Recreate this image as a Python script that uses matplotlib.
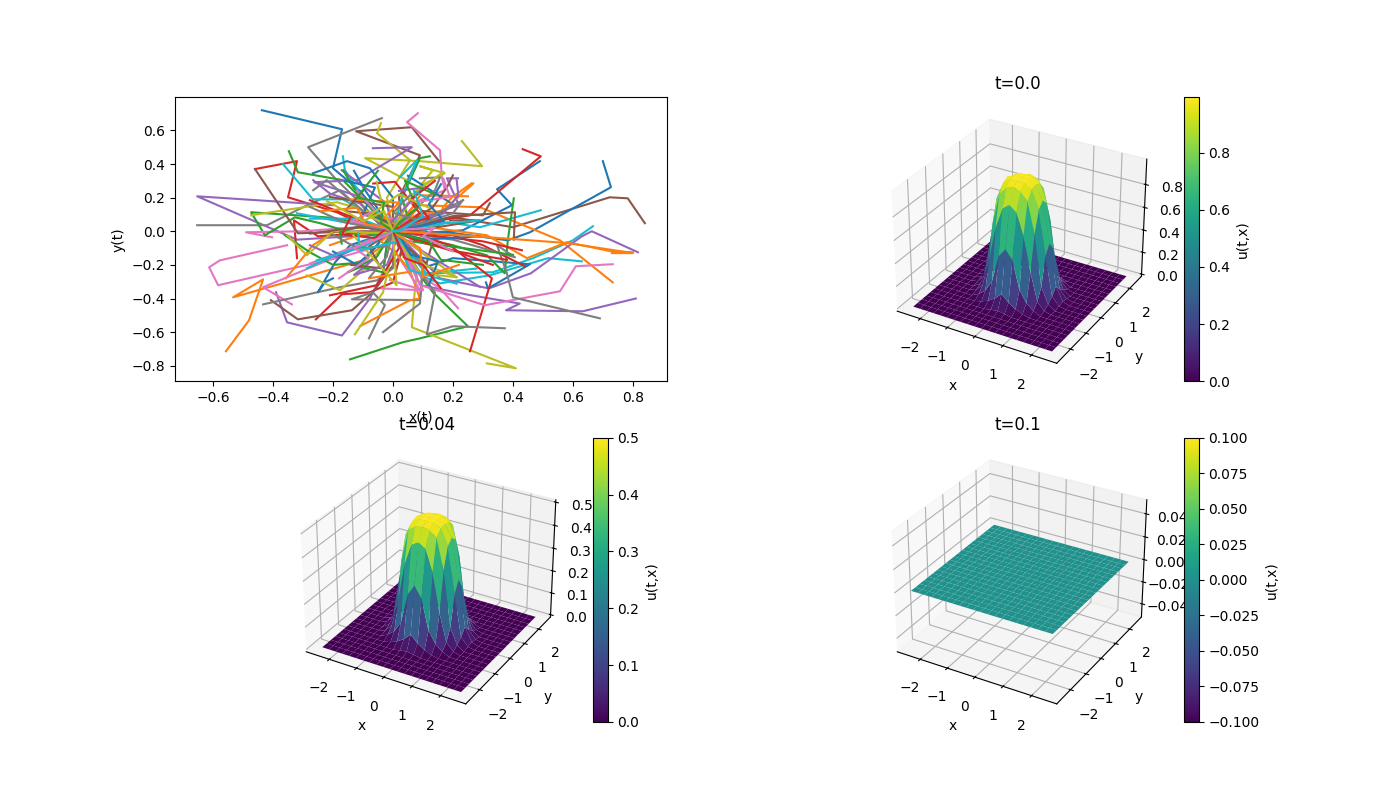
import numpy as np
import matplotlib
matplotlib.use('Agg')
import matplotlib.pyplot as plt

# sample paths, grouped by colour of the default cycle
blue = [
    [(-.437, .72), (-.17, .607), (-.2, .375), (-.11, .24), (0, 0)],
    [(.70, .417), (.727, .262), (.667, .202), (.457, -.006), (.383, -.054), (.2, -.01), (0, 0)],
    [(.49, .417), (.347, .25), (.397, .155), (.233, .006), (.09, -.012), (0, 0)],
    [(-.2, -.28), (-.227, -.304), (-.25, -.363), (-.193, -.185), (-.143, -.083), (0, 0)],
    [(.31, -.304), (.317, -.34), (.457, -.196), (.2, -.16), (.097, -.22), (0, 0)],
    [(-.267, .345), (-.153, .417), (-.077, .375), (0, .2), (0, 0)],
    [(-.13, .36), (-.093, .244), (-.03, .08), (0, 0)],
    [(.05, .33), (.2, .16), (.1, .05), (0, 0)],
    [(.29, -.03), (.1, -.05), (0, 0)],
    [(-.16, .3), (-.06, .26), (-.1, .1), (-.02, .06), (0, 0)],
    [(.16, .28), (.12, .16), (.17, .06), (.06, .02), (0, 0)],
    [(-.2, -.12), (-.12, -.2), (-.06, -.1), (-.03, -.03), (0, 0)],
    [(.12, -.32), (.15, -.18), (.06, -.14), (.03, -.05), (0, 0)],
]
orange = [
    [(-.557, -.714), (-.48, -.53), (-.433, -.286), (-.533, -.393), (-.1, -.173), (-.033, -.083), (0, 0)],
    [(-.357, -.28), (-.267, -.083), (-.177, .018), (-.06, .02), (0, 0)],
    [(.733, -.304), (.557, -.054), (.29, .143), (.09, .155), (.04, .05), (0, 0)],
    [(.8, -.125), (.73, -.12), (.58, -.065), (.447, -.16), (.313, -.024), (.1, .03), (0, 0)],
    [(-.11, -.565), (.057, -.41), (.09, -.4), (.04, -.15), (0, 0)],
    [(.263, .286), (.197, .202), (.167, .143), (.157, .083), (.05, .03), (0, 0)],
    [(.25, .208), (.09, .214), (.05, .1), (0, 0)],
    [(.268, .284), (.168, .125), (.07, .09), (0, 0)],
    [(-.21, -.083), (-.1, -.014), (0, 0)],
    [(.73, -.13), (.8, -.13), (.58, -.07), (.2, -.02), (0, 0)],
    [(-.14, .19), (.02, .17), (-.03, .08), (.03, .02), (0, 0)],
    [(-.08, -.28), (.06, -.24), (.01, -.13), (-.04, -.06), (0, 0)],
    [(.22, -.2), (.1, -.27), (.09, -.1), (.02, -.03), (0, 0)],
    [(-.24, .12), (-.12, .14), (-.09, .04), (-.03, .03), (0, 0)],
]
green = [
    [(-.143, -.762), (.033, -.66), (.09, -.637), (.25, -.565), (.133, -.363), (.09, -.262), (.03, -.08), (0, 0)],
    [(-.347, .476), (-.317, .351), (-.167, .304), (-.077, .143), (-.03, .04), (0, 0)],
    [(-.427, -.024), (-.473, .113), (-.2, .08), (-.05, .03), (0, 0)],
    [(-.427, -.024), (-.327, .083), (-.243, .048), (-.1, -.03), (0, 0)],
    [(.403, .196), (.383, -.054), (.373, -.25), (.313, -.143), (.2, -.083), (.06, -.03), (0, 0)],
    [(.123, .446), (.09, .435), (.03, .2), (.05, .08), (0, 0)],
    [(-.36, -.024), (-.277, -.125), (-.2, -.2), (-.1, -.185), (-.04, -.05), (0, 0)],
    [(-.15, -.244), (-.11, -.214), (-.033, -.244), (-.02, -.08), (0, 0)],
    [(-.166, .363), (-.133, .264), (-.088, .165), (0, 0)],
    [(-.171, -.073), (-.177, -.004), (-.11, .026), (0, 0)],
    [(.4, -.14), (.29, -.113), (.034, -.054), (0, 0)],
    [(-.149, -.242), (-.054, -.153), (0, 0)],
    [(.14, .22), (.04, .3), (.08, .14), (.02, .05), (0, 0)],
    [(.3, -.2), (.16, -.17), (.12, -.06), (.03, -.02), (0, 0)],
    [(-.05, .36), (-.12, .2), (-.03, .17), (-.04, .05), (0, 0)],
]
red = [
    [(-.46, .37), (-.32, .417), (-.35, .202), (-.187, .113), (-.077, .018), (0, 0)],
    [(-.32, -.16), (-.33, .065), (-.25, -.03), (-.1, -.01), (0, 0)],
    [(-.257, -.524), (-.17, -.375), (-.077, -.363), (0, -.304), (.03, -.1), (0, 0)],
    [(.433, .488), (.493, .446), (.257, .095), (.157, .065), (.05, .0), (0, 0)],
    [(.257, -.714), (.33, -.28), (.19, -.083), (.09, -.024), (0, 0)],
    [(.44, -.208), (.3, -.083), (.2, -.024), (0, 0)],
    [(.333, -.2), (.2, -.113), (.09, -.065), (0, 0)],
    [(.43, -.113), (.3, -.06), (0, 0)],
    [(-.277, .185), (-.11, .065), (0, 0)],
    [(-.066, .284), (.007, .294), (.09, .105), (.02, .02), (0, 0)],
    [(-.21, -.381), (-.054, -.321), (.02, -.1), (0, 0)],
    [(.38, -.17), (.19, -.113), (0, 0)],
    [(-.14, .09), (-.17, -.02), (-.06, -.04), (-.02, .02), (0, 0)],
    [(.14, .3), (.06, .19), (.12, .08), (.03, .03), (0, 0)],
    [(.16, -.34), (.1, -.2), (.04, -.16), (.01, -.04), (0, 0)],
]
purple = [
    [(-.2, .155), (-.653, .208), (-.32, -.05), (-.05, -.02), (0, 0)],
    [(-.39, -.363), (-.353, -.542), (-.17, -.62), (-.077, -.4), (-.033, -.244), (-.02, -.07), (0, 0)],
    [(.81, -.4), (.633, -.476), (.377, -.47), (.423, -.43), (.257, -.38), (.09, -.32), (.04, -.1), (0, 0)],
    [(.817, -.125), (.663, .0), (.63, -.03), (.46, -.25), (.32, -.34), (.157, -.28), (.05, -.08), (0, 0)],
    [(-.067, .494), (.063, .5), (-.12, .304), (-.263, .292), (-.1, .2), (-.03, .06), (0, 0)],
    [(.217, .315), (.18, .315), (.22, .155), (.06, .06), (0, 0)],
    [(-.266, .304), (-.21, .224), (-.11, .165), (-.04, .03), (0, 0)],
    [(-.171, .363), (-.021, .165), (0, 0)],
    [(.212, .313), (.218, .214), (.168, .105), (.04, .04), (0, 0)],
    [(-.277, -.083), (-.188, -.153), (-.07, -.06), (0, 0)],
    [(.29, -.331), (.1, -.12), (0, 0)],
    [(.02, .24), (.1, .26), (.03, .12), (-.02, .03), (0, 0)],
    [(-.06, -.16), (-.13, -.26), (-.02, -.2), (.01, -.06), (0, 0)],
]
brown = [
    [(.84, .048), (.783, .196), (.723, .202), (.4, .024), (.2, .083), (.06, .02), (0, 0)],
    [(.157, .41), (.063, .619), (-.123, .595), (.09, .452), (.02, .2), (.03, .06), (0, 0)],
    [(-.407, -.41), (-.317, -.524), (-.137, -.47), (-.067, -.363), (.033, -.125), (0, 0)],
    [(-.46, .37), (-.35, .077), (-.317, -.012), (-.1, .0), (0, 0)],
    [(.403, -.05), (.407, .113), (.2, .09), (.07, .03), (0, 0)],
    [(.323, .167), (.3, .095), (.1, .12), (.03, .04), (0, 0)],
    [(.2, .333), (.18, .262), (.134, .145), (.03, .02), (0, 0)],
    [(-.21, .204), (0, .145), (0, 0)],
    [(.19, .065), (.29, .065), (.03, -.01), (0, 0)],
    [(.134, -.054), (.112, -.192), (.02, -.05), (0, 0)],
    [(-.277, -.014), (-.11, .026), (0, 0)],
    [(-.1, .24), (-.16, .12), (-.05, .1), (-.01, .02), (0, 0)],
    [(-.14, -.2), (-.04, -.22), (-.08, -.09), (-.02, -.02), (0, 0)],
]
pink = [
    [(-.353, -.083), (-.577, -.173), (-.613, -.214), (-.583, -.321), (-.187, -.16), (-.033, -.083), (0, 0)],
    [(-.337, -.435), (-.433, -.333), (-.2, -.16), (-.05, -.04), (0, 0)],
    [(-.403, -.036), (-.49, -.006), (-.3, .0), (-.08, .03), (0, 0)],
    [(.083, .702), (.047, .649), (.09, .583), (.157, .482), (.163, .321), (.173, .244), (.09, .185), (.02, .06), (0, 0)],
    [(.733, -.196), (.61, -.208), (.557, -.357), (.307, -.44), (.09, -.32), (.03, -.1), (0, 0)],
    [(.217, -.458), (.157, -.34), (.09, -.262), (.02, -.08), (0, 0)],
    [(-.037, -.34), (.09, -.35), (0, -.1), (0, 0)],
    [(-.277, -.192), (-.132, -.093), (0, 0)],
    [(-.043, .085), (.046, .065), (0, 0)],
    [(.168, .313), (.19, .204), (.046, .165), (0, 0)],
    [(-.01, -.29), (.101, -.351), (0, 0)],
    [(.057, -.054), (.123, -.163), (0, 0)],
    [(-.12, .24), (-.06, .12), (-.14, .06), (-.03, .02), (0, 0)],
    [(.2, -.12), (.1, -.03), (.14, .02), (.03, .01), (0, 0)],
    [(-.18, -.28), (-.08, -.16), (-.13, -.1), (-.03, -.03), (0, 0)],
]
grey = [
    [(-.037, .673), (-.283, .5), (-.193, .315), (-.07, .1), (0, 0)],
    [(-.653, .036), (-.42, .036), (-.3, .143), (-.177, .244), (-.1, .12), (-.03, .03), (0, 0)],
    [(-.433, -.435), (-.177, -.333), (-.053, -.292), (0, -.22), (0, 0)],
    [(-.08, -.637), (-.027, -.44), (-.067, -.363), (-.137, -.405), (.09, -.41), (.1, -.2), (.02, -.05), (0, 0)],
    [(-.033, -.6), (.09, -.43), (.1, -.2), (0, 0)],
    [(.373, -.577), (.2, -.565), (.113, -.613), (.14, -.363), (.09, -.244), (.02, -.06), (0, 0)],
    [(.69, -.518), (.4, -.393), (.38, -.25), (.347, -.083), (.407, -.155), (.2, -.05), (0, 0)],
    [(.233, .185), (.2, .107), (.05, .02), (0, 0)],
    [(.09, .315), (.157, .321), (.14, .244), (.04, .07), (0, 0)],
    [(-.266, .244), (-.221, .304), (-.1, .12), (0, 0)],
    [(-.277, .145), (-.166, .056), (0, 0)],
    [(.234, .185), (.146, .105), (0, 0)],
    [(-.077, -.272), (-.021, -.153), (0, 0)],
    [(-.2, -.02), (-.12, -.1), (-.02, -.09), (-.01, -.02), (0, 0)],
    [(.06, .22), (.0, .11), (.08, .07), (.02, .01), (0, 0)],
]
olive = [
    [(.313, -.786), (.41, -.815), (.09, -.59), (.063, -.571), (.073, -.35), (.08, -.244), (.02, -.07), (0, 0)],
    [(.23, .536), (.297, .387), (.09, .417), (-.093, .435), (.05, .3), (.01, .1), (0, 0)],
    [(-.04, .643), (-.053, .583), (.057, .423), (-.02, .2), (0, 0)],
    [(.09, .268), (.133, .363), (.09, .387), (.173, .345), (.09, .268), (.02, .08), (0, 0)],
    [(-.127, -.613), (-.033, -.363), (0, -.1), (0, 0)],
    [(-.287, -.262), (-.177, -.351), (-.1, -.232), (-.02, -.06), (0, 0)],
    [(.213, -.274), (.09, -.25), (.02, -.06), (0, 0)],
    [(-.473, .095), (-.187, .173), (-.05, .1), (0, 0)],
    [(-.353, -.024), (-.287, -.143), (-.2, .0), (-.04, -.01), (0, 0)],
    [(-.054, .294), (-.032, .125), (0, 0)],
    [(.168, .353), (.068, .224), (0, 0)],
    [(.034, -.153), (.212, -.272), (0, 0)],
    [(-.132, -.024), (.012, -.321), (0, 0)],
    [(.12, .14), (.02, .22), (-.08, .09), (-.01, .03), (0, 0)],
    [(-.22, .18), (-.1, .06), (-.03, .12), (0, 0)],
]
cyan = [
    [(.63, -.179), (.517, -.16), (.323, -.262), (.157, -.31), (.09, -.262), (.02, -.04), (0, 0)],
    [(.667, .03), (.6, -.054), (.467, -.16), (.333, -.244), (.09, -.25), (.03, -.06), (0, 0)],
    [(.493, .125), (.29, .024), (.18, .054), (.09, -.006), (0, 0)],
    [(-.367, .4), (-.267, .19), (-.167, .19), (-.03, .05), (0, 0)],
    [(-.167, .446), (-.16, .363), (-.1, .2), (-.02, .05), (0, 0)],
    [(-.32, .107), (-.077, .024), (0, 0)],
    [(-.287, -.22), (-.12, -.083), (-.03, -.01), (0, 0)],
    [(.023, .321), (.08, .423), (.03, .2), (0, 0)],
    [(-.277, .075), (-.11, .075), (0, 0)],
    [(.29, .065), (.168, .046), (0, 0)],
    [(.279, -.222), (.112, -.252), (0, 0)],
    [(.212, -.312), (.057, -.232), (0, 0)],
    [(-.254, -.173), (-.099, -.093), (0, 0)],
    [(-.116, -.014), (-.11, -.113), (.012, -.063), (0, 0)],
    [(.13, .18), (.07, .24), (.1, .09), (.02, .0), (0, 0)],
]
path_groups = [blue, orange, green, red, purple, brown, pink, grey, olive, cyan]

# surface grid and the middle of u(t,x,y), zero outside this block
grid = [-2.5, -2.25, -2.0, -1.75, -1.5, -1.25, -1.0, -.75, -.5, -.25, 0.0,
        .25, .5, .75, 1.0, 1.25, 1.5, 1.75, 2.0, 2.25, 2.5]
u_t0 = [
    [0, 0, 0, 0, 0, .012, .02, .012, 0, 0, 0, 0, 0],
    [0, 0, 0, .015, .04, .08, .14, .08, .04, .015, 0, 0, 0],
    [0, 0, .03, .08, .18, .42, .50, .42, .18, .08, .03, 0, 0],
    [0, .015, .08, .32, .62, .80, .85, .80, .62, .32, .08, .015, 0],
    [0, .04, .18, .62, .88, .95, .97, .95, .88, .62, .18, .04, 0],
    [.012, .08, .42, .80, .95, .99, .994, .99, .95, .80, .42, .08, .012],
    [.02, .14, .50, .85, .97, .994, .997, .994, .97, .85, .50, .14, .02],
    [.012, .08, .42, .80, .95, .99, .994, .99, .95, .80, .42, .08, .012],
    [0, .04, .18, .62, .88, .95, .97, .95, .88, .62, .18, .04, 0],
    [0, .015, .08, .32, .62, .80, .85, .80, .62, .32, .08, .015, 0],
    [0, 0, .03, .08, .18, .42, .50, .42, .18, .08, .03, 0, 0],
    [0, 0, 0, .015, .04, .08, .14, .08, .04, .015, 0, 0, 0],
    [0, 0, 0, 0, 0, .012, .02, .012, 0, 0, 0, 0, 0],
]
u_t1 = [
    [0, 0, 0, 0, 0, .006, .01, .006, 0, 0, 0, 0, 0],
    [0, 0, 0, .007, .02, .04, .07, .04, .02, .007, 0, 0, 0],
    [0, 0, .015, .04, .09, .22, .27, .22, .09, .04, .015, 0, 0],
    [0, .007, .04, .16, .33, .42, .44, .42, .33, .16, .04, .007, 0],
    [0, .02, .09, .33, .46, .485, .49, .485, .46, .33, .09, .02, 0],
    [.006, .04, .22, .42, .485, .50, .50, .50, .485, .42, .22, .04, .006],
    [.01, .07, .27, .44, .49, .50, .50, .50, .49, .44, .27, .07, .01],
    [.006, .04, .22, .42, .485, .50, .50, .50, .485, .42, .22, .04, .006],
    [0, .02, .09, .33, .46, .485, .49, .485, .46, .33, .09, .02, 0],
    [0, .007, .04, .16, .33, .42, .44, .42, .33, .16, .04, .007, 0],
    [0, 0, .015, .04, .09, .22, .27, .22, .09, .04, .015, 0, 0],
    [0, 0, 0, .007, .02, .04, .07, .04, .02, .007, 0, 0, 0],
    [0, 0, 0, 0, 0, .006, .01, .006, 0, 0, 0, 0, 0],
]
u_t2 = [[0.0]]

times = ['0.0', '0.04', '0.1']
slots = [2, 3, 4]
zticks_t0 = [0.0, 0.2, 0.4, 0.6, 0.8]

fig = plt.figure(figsize=(13.98, 8.11))

ax = fig.add_subplot(2, 2, 1)
for i in range(max(len(g) for g in path_groups)):
    for c, group in enumerate(path_groups):
        if i < len(group):
            xy = np.array(group[i])
            ax.plot(xy[:, 0], xy[:, 1], color='C%d' % c)
ax.set_xlabel('x(t)')
ax.set_ylabel('y(t)')

X, Y = np.meshgrid(grid, grid)
for slot, t, block in zip(slots, times, [u_t0, u_t1, u_t2]):
    block = np.array(block, dtype=float)
    # pad the block with zeros up to the full grid
    pad = (len(grid) - block.shape[0]) // 2
    Z = np.pad(block, pad)
    ax3 = fig.add_subplot(2, 2, slot, projection='3d')
    surf = ax3.plot_surface(X, Y, Z, cmap='viridis')
    if t == '0.0':
        ax3.set_zticks(zticks_t0)
    ax3.set_title('t=' + t)
    ax3.set_xlabel('x')
    ax3.set_ylabel('y')
    fig.colorbar(surf, ax=ax3, label='u(t,x)')

plt.savefig('out.png', dpi=100)
